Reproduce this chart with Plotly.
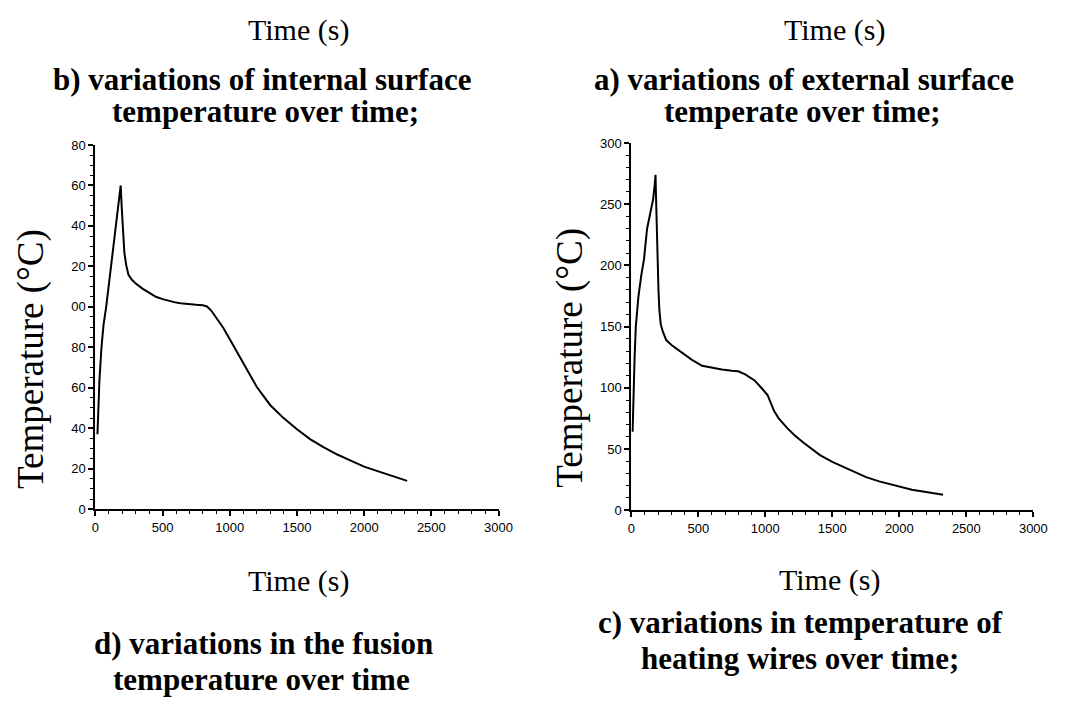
import plotly.graph_objects as go

# ---- data ----
time_internal = [15, 22, 30, 45, 60, 80, 110, 145, 166, 180, 188, 195, 205, 215, 228, 245, 270, 300,
                 350, 400, 450, 500, 550, 600, 650, 700, 750, 800, 830, 860, 900, 950, 1000, 1050,
                 1100, 1150, 1200, 1300, 1400, 1500, 1600, 1700, 1800, 1900, 2000, 2100, 2200, 2320]
temp_internal = [37, 55, 64, 80, 91, 100, 116, 136, 147, 155, 160, 150, 135, 127, 121, 116, 113.5, 111.5,
                 109, 107, 105, 103.8, 102.8, 102.1, 101.6, 101.2, 101, 100.8, 100.2, 98.3, 94.5, 89.8, 84, 78,
                 71.8, 66, 60.5, 51.5, 45, 39.5, 34.5, 30.5, 27, 24, 21, 18.8, 16.5, 14]

time_external = [10, 15, 20, 25, 34, 53, 75, 95, 118, 140, 163, 175, 181, 185, 190, 196, 203, 210, 220,
                 235, 261, 300, 383, 450, 529, 600, 676, 750, 798, 850, 920, 970, 1017, 1066, 1100,
                 1164, 1220, 1286, 1350, 1408, 1500, 1600, 1700, 1752, 1850, 1947, 2000, 2094, 2200, 2326]
temp_external = [64, 90, 110, 125, 150, 174, 192, 205, 230, 242, 254, 266, 274, 255, 225, 200, 180, 163, 152,
                 146, 139, 135, 128.6, 123, 118, 116.5, 115, 114, 113.5, 111, 106, 100, 94, 81, 75,
                 67, 61, 55, 49.5, 45, 39.5, 34.5, 30, 27, 23.5, 20.6, 19, 16.6, 14.8, 12.6]

x_ticks = [0, 500, 1000, 1500, 2000, 2500, 3000]
y_ticks_left = [0, 20, 40, 60, 80, 100, 120, 140, 160, 180]
y_ticktext_left = ["0", "20", "40", "60", "80", "00", "20", "40", "60", "80"]
y_ticks_right = [0, 50, 100, 150, 200, 250, 300]

W, H = 1069, 709

def px(x):
    return x / W

def py(y):
    return 1 - y / H

fig = go.Figure()
fig.add_trace(go.Scatter(x=time_internal, y=temp_internal, mode="lines",
                         line=dict(color="black", width=2), xaxis="x", yaxis="y", showlegend=False))
fig.add_trace(go.Scatter(x=time_external, y=temp_external, mode="lines",
                         line=dict(color="black", width=2), xaxis="x2", yaxis="y2", showlegend=False))

tickfont = dict(family="Liberation Sans, Arial", size=13, color="black")

def xax(domain, anchor):
    return dict(domain=domain, anchor=anchor, range=[0, 3000], tickvals=x_ticks,
                ticks="outside", ticklen=5, tickwidth=1.5, tickcolor="black",
                minor=dict(dtick=100, tick0=0, ticks="outside", ticklen=3, tickwidth=1.2, tickcolor="black"),
                showline=True, linewidth=2, linecolor="black", showgrid=False, zeroline=False,
                tickfont=tickfont, fixedrange=True)

def yax(domain, anchor, rng, tickvals, ticktext, minor_dtick):
    return dict(domain=domain, anchor=anchor, range=rng, tickvals=tickvals, ticktext=ticktext,
                ticks="outside", ticklen=5, tickwidth=1.5, tickcolor="black",
                minor=dict(dtick=minor_dtick, tick0=0, ticks="outside", ticklen=3, tickwidth=1.2, tickcolor="black"),
                showline=True, linewidth=2, linecolor="black", showgrid=False, zeroline=False,
                tickfont=tickfont, fixedrange=True)

fig.update_layout(
    width=W, height=H,
    margin=dict(l=0, r=0, t=0, b=0),
    paper_bgcolor="white", plot_bgcolor="white",
    xaxis=xax([px(93), px(503)], "y"),
    yaxis=yax([py(513), py(141)], "x", [0, 180], y_ticks_left, y_ticktext_left, 5),
    xaxis2=xax([px(638), px(1047)], "y2"),
    yaxis2=yax([py(514), py(139)], "x2", [0, 300], y_ticks_right, [str(v) for v in y_ticks_right], 10),
)

serif = "Liberation Serif, Times New Roman, serif"
annots = [
    # (text, x, y, size, bold, angle)
    ("Time (s)", 300, 23, 30, False, 0),
    ("Time (s)", 845, 23, 30, False, 0),
    ("b) variations of internal surface", 262, 74, 31, True, 0),
    ("temperature over time;", 266, 107, 31, True, 0),
    ("a) variations of external surface", 814, 74, 31, True, 0),
    ("temperate over time;", 812, 107, 31, True, 0),
    ("Time (s)", 300, 586, 30, False, 0),
    ("Time (s)", 840, 585, 30, False, 0),
    ("d) variations in the fusion", 264, 650, 31, True, 0),
    ("temperature over time", 262, 687, 31, True, 0),
    ("c) variations in temperature of", 810, 629, 31, True, 0),
    ("heating wires over time;", 810, 666, 31, True, 0),
    ("Temperature (°C)", 28, 360, 37, False, -90),
    ("Temperature (°C)", 576, 358, 37, False, -90),
]
for text, x, y, size, bold, angle in annots:
    fig.add_annotation(text=f"<b>{text}</b>" if bold else text, x=px(x), y=py(y),
                       xref="paper", yref="paper", showarrow=False, textangle=angle,
                       xanchor="center", yanchor="middle",
                       font=dict(family=serif, size=size, color="black"))

fig.write_html("out.html")
